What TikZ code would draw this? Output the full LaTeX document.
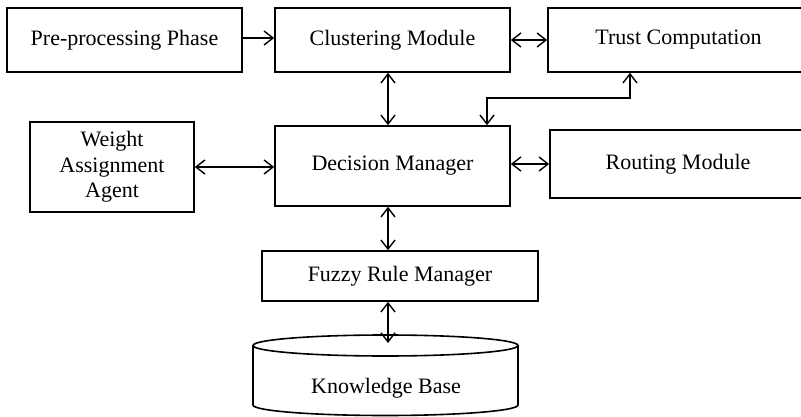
\documentclass[tikz,border=0pt]{standalone}
\usepackage{fontspec}
\setmainfont{Liberation Serif}
\usetikzlibrary{arrows.meta}

\tikzset{
  box/.style={draw, line width=1.6pt, inner sep=0pt, align=center,
              font=\fontsize{22}{25.5}\selectfont},
  link/.style={line width=1.4pt,
               {Straight Barb[length=9pt,width=14pt,line width=1.4pt]}-{Straight Barb[length=9pt,width=14pt,line width=1.4pt]}},
  onelink/.style={line width=1.4pt, -{Straight Barb[length=9pt,width=14pt,line width=1.4pt]}}
}

\begin{document}
\begin{tikzpicture}[x=1pt,y=-1pt]
\useasboundingbox (0,0) rectangle (801,417);
\clip (0,0) rectangle (801,417);

% top row
\node[box, minimum width=235pt, minimum height=64pt] (pre) at (124.5,40) {Pre-processing Phase};
\node[box, minimum width=235pt, minimum height=64pt] (clust) at (392.5,40) {Clustering Module};
\node[box, minimum width=261pt, minimum height=64pt] (tc) at (678.5,40) {Trust Computation};

% middle row
\node[box, minimum width=164pt, minimum height=90pt] (wa) at (112,167) {Weight\\Assignment\\Agent};
\node[box, minimum width=235pt, minimum height=80pt] (dm) at (392.5,166) {Decision Manager};
\node[box, minimum width=256pt, minimum height=68pt] (rt) at (678,164) {Routing Module};

% rule manager
\node[box, minimum width=276pt, minimum height=50pt] (fz) at (400,276) {Fuzzy Rule Manager};

% knowledge base cylinder
\draw[line width=1.6pt] (385.5,345.5) ellipse [x radius=132.5, y radius=10.5];
\draw[line width=1.6pt] (253,345.5) -- (253,405) arc [start angle=180, end angle=0, x radius=132.5, y radius=10.5] -- (518,345.5);
\node[font=\fontsize{22}{25.5}\selectfont] (kb) at (386,388) {Knowledge Base};

% connector helpers
\coordinate (ax) at (388,0);
\coordinate (kbtop) at (388,343);
\coordinate (bend) at (630,98);
\coordinate (drop) at (487,98);

% connectors
\draw[onelink] ([yshift=2pt]pre.east) -- ([yshift=2pt]clust.west);
\draw[link] (clust.east) -- (tc.west);
\draw[link] (clust.south -| ax) -- (dm.north -| ax);
\draw[link] (tc.south -| bend) -- (bend) -- (drop) -- (dm.north -| drop);
\draw[link] (wa.east) -- (wa.east -| dm.west);
\draw[link] (dm.east |- rt.west) -- (rt.west);
\draw[link] (dm.south -| ax) -- (fz.north -| ax);
\draw[link] (fz.south -| ax) -- (kbtop);
\end{tikzpicture}
\end{document}
